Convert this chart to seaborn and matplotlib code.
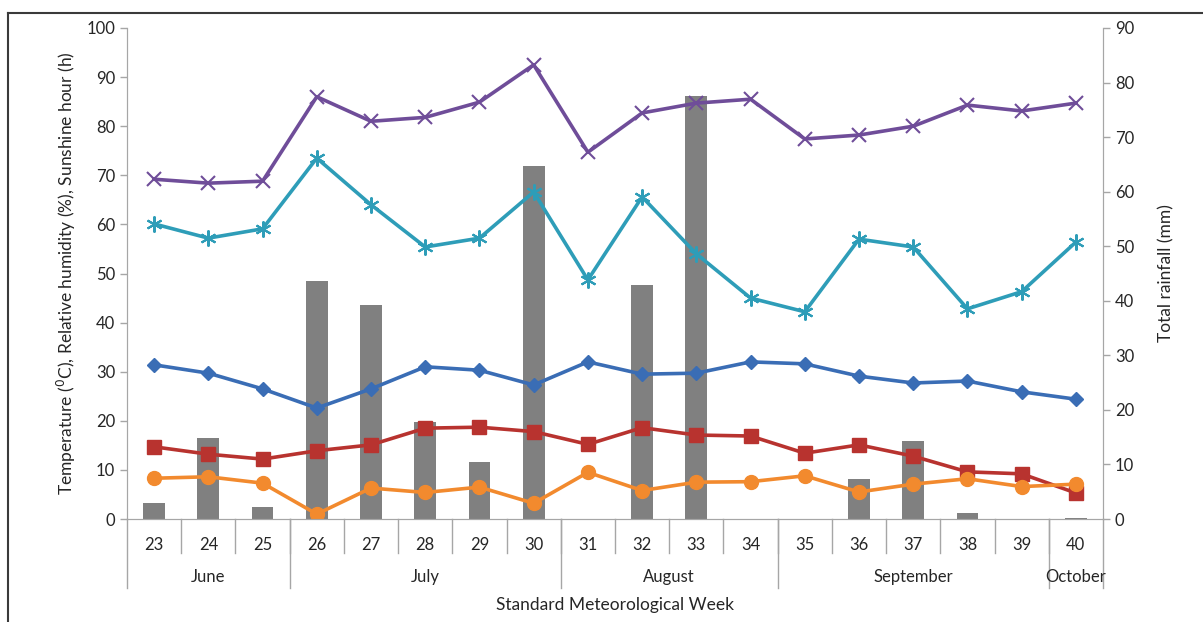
import pandas as pd
import matplotlib.pyplot as plt
import matplotlib.transforms as mtransforms
from matplotlib.lines import Line2D
import seaborn as sns

# weekly weather data
weeks = [23, 24, 25, 26, 27, 28, 29, 30, 31, 32, 33, 34, 35, 36, 37, 38, 39, 40]
max_temp = [31.4, 29.7, 26.5, 22.6, 26.5, 31.0, 30.3, 27.3, 32.0, 29.5, 29.7, 32.0, 31.6, 29.1, 27.7, 28.1, 25.9, 24.4]
min_temp = [14.7, 13.2, 12.2, 13.9, 15.1, 18.5, 18.7, 17.8, 15.2, 18.6, 17.1, 16.9, 13.4, 15.1, 12.8, 9.6, 9.2, 5.3]
sunshine = [8.3, 8.6, 7.3, 1.0, 6.3, 5.4, 6.5, 3.2, 9.5, 5.8, 7.5, 7.6, 8.8, 5.5, 7.1, 8.2, 6.6, 7.1]
rh_evening = [60.1, 57.2, 59.1, 73.5, 64.0, 55.4, 57.2, 66.6, 48.7, 65.6, 54.0, 45.0, 42.2, 57.0, 55.4, 42.8, 46.3, 56.4]
rh_morning = [69.2, 68.4, 68.8, 86.0, 81.0, 81.8, 84.9, 92.5, 74.7, 82.7, 84.7, 85.5, 77.4, 78.2, 80.0, 84.3, 83.1, 84.7]
rainfall = [2.9, 14.8, 2.2, 43.6, 39.2, 17.8, 10.4, 64.7, 0.0, 42.9, 77.5, 0.0, 0.0, 7.3, 14.3, 1.1, 0.0, 0.2]

months = ["June", "July", "August", "September", "October"]
month_weeks = [3, 5, 4, 5, 1]

week_labels = [str(w) for w in weeks]
df = pd.DataFrame({"week": week_labels, "tmax": max_temp, "tmin": min_temp,
                   "ssh": sunshine, "rh2": rh_evening, "rh1": rh_morning,
                   "rain": rainfall})

plt.rcParams['font.family'] = ['Lato', 'DejaVu Sans']

fig = plt.figure(figsize=(12.03, 6.22), dpi=100)
ax = fig.add_axes([127 / 1203, 1 - 519 / 622, 976 / 1203, 491 / 622])
ax2 = ax.twinx()

# rainfall bars on the secondary axis, behind the lines
sns.barplot(data=df, x="week", y="rain", order=week_labels, color="#808080",
            width=0.4, saturation=1, ax=ax2)

series = [
    ("tmax", "#3A6DB5", "D", 7, 1),
    ("tmin", "#B8332F", "s", 9.5, 1),
    ("ssh", "#F28A2E", "o", 10, 1),
    ("rh2", "#2E9DB8", (6, 2, 0), 11.5, 1.5),
    ("rh1", "#6F4D99", "x", 10.5, 1.5),
]
for col, c, m, ms, mew in series:
    sns.pointplot(data=df, x="week", y=col, order=week_labels, color=c,
                  marker=m, markersize=ms, markeredgewidth=mew, linewidth=2.6,
                  errorbar=None, ax=ax)

ax.set_zorder(ax2.get_zorder() + 1)
ax.patch.set_visible(False)

ax.set_xlim(-0.5, len(weeks) - 0.5)
ax.set_ylim(0, 100)
ax2.set_ylim(0, 90)
ax.set_yticks(range(0, 101, 10))
ax2.set_yticks(range(0, 91, 10))

axis_grey = "#A6A6A6"
text_col = "#262626"
for a in (ax, ax2):
    for s in a.spines.values():
        s.set_color(axis_grey)
    a.spines['top'].set_visible(False)
    a.tick_params(axis='y', colors=axis_grey, labelcolor=text_col, labelsize=12,
                  length=5, width=1)
    a.set_xlabel("")
ax.tick_params(axis='x', length=0, labelsize=12, labelcolor=text_col, pad=13)
ax2.tick_params(axis='x', length=0)
ax.set_xticks(range(len(weeks)))
ax.set_xticklabels(week_labels)

ax.set_ylabel("Temperature ($^{0}$C), Relative humidity (%), Sunshine hour (h)",
              fontsize=12.5, color=text_col)
ax.yaxis.set_label_coords(-0.050, 0.5)
ax2.set_ylabel("Total rainfall (mm)", fontsize=12.5, color=text_col)
ax2.yaxis.set_label_coords(1.057, 0.5)

# two-level category axis: week separators and month groups
trans = mtransforms.blended_transform_factory(ax.transData, ax.transAxes)
for i in range(1, len(weeks)):
    ax.plot([i - 0.5, i - 0.5], [0, -0.069], color=axis_grey, lw=1,
            transform=trans, clip_on=False)
start = 0
bounds = [-0.5]
for name, n in zip(months, month_weeks):
    ax.text(start + (n - 1) / 2, -0.118, name, transform=trans, ha="center",
            va="center", fontsize=12, color=text_col)
    start += n
    bounds.append(start - 0.5)
for b in bounds:
    ax.plot([b, b], [0, -0.14], color=axis_grey, lw=1, transform=trans,
            clip_on=False)

ax.text(0.5, -0.175, "Standard Meteorological Week", transform=ax.transAxes,
        ha="center", va="center", fontsize=12.5, color=text_col)

# outer frame of the picture
fig.add_artist(Line2D([8 / 1203, 1.0], [1 - 13 / 622, 1 - 13 / 622],
                      color="#3A3A3A", lw=1.5, transform=fig.transFigure))
fig.add_artist(Line2D([8 / 1203, 8 / 1203], [0, 1 - 13 / 622],
                      color="#3A3A3A", lw=1.5, transform=fig.transFigure))

fig.savefig("out.png", dpi=100)
